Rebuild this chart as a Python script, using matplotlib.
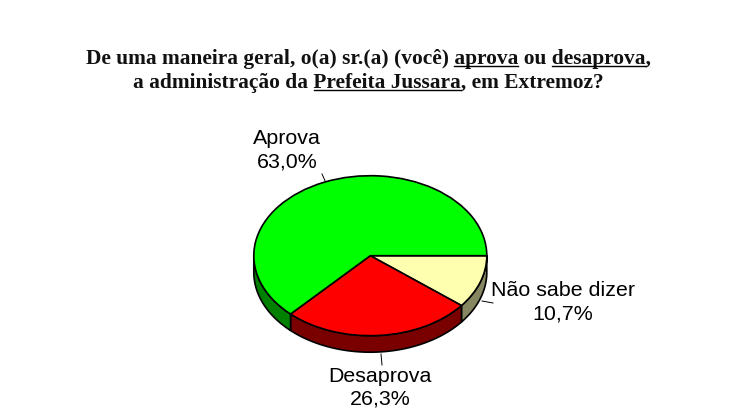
import numpy as np
import matplotlib
matplotlib.use('Agg')
import matplotlib.pyplot as plt

W = 729
H = 414

# clockwise from 3 o'clock
categories = ['Não sabe dizer', 'Desaprova', 'Aprova']
values = [10.7, 26.3, 63.0]
value_labels = ['10,7%', '26,3%', '63,0%']
top_colors = ['#FFFFB0', '#FF0000', '#00FF00']
side_colors = ['#868660', '#7A0000', '#008000']

title_lines = [
    ('De uma maneira geral, o(a) sr.(a) (você) aprova ou desaprova,', ['aprova', 'desaprova']),
    ('a administração da Prefeita Jussara, em Extremoz?', ['Prefeita Jussara']),
]

cx, cy = 370.3, 256.7
rx, ry = 116.5, 80.0
depth = 16.5 / ry
title_size = 15.4
label_size = 15.4


def px(x, y):
    # image pixels to pie units
    return (x - cx) / rx, (cy - y) / ry


fig = plt.figure(figsize=(W / 100, H / 100), dpi=100, facecolor='white')
ax = fig.add_axes([0, 0, 1, 1])

wedges, _ = ax.pie(values, colors=top_colors, startangle=0, counterclock=False,
                   radius=1.0, center=(0, 0),
                   wedgeprops={'edgecolor': 'black', 'linewidth': 1.2, 'zorder': 3})
ax.set_aspect('auto')
ax.set_xlim(px(0, 0)[0], px(W, 0)[0])
ax.set_ylim(px(0, H)[1], px(0, 0)[1])
ax.axis('off')

# side of the pie, only the front half shows
fractions = np.cumsum([0] + values) / np.sum(values)
for i in range(len(values)):
    a0 = max(fractions[i] * 360, 0)
    a1 = min(fractions[i + 1] * 360, 180)
    t = np.radians(np.linspace(a0, a1, 80))
    xs = np.cos(t)
    ys = -np.sin(t)
    ax.fill(np.r_[xs, xs[::-1]], np.r_[ys, ys[::-1] - depth],
            facecolor=side_colors[i], edgecolor='black', linewidth=1.2, zorder=2)

# leader lines
leaders = [((482, 302), (493, 304)), ((381, 355), (382, 366)), ((322, 175), (326, 184))]
for p0, p1 in leaders:
    a = px(*p0)
    b = px(*p1)
    ax.plot([a[0], b[0]], [a[1], b[1]], color='black', linewidth=0.7, zorder=1)

# slice labels
label_pos = [(563, 291, 314), (380, 377, 399), (287, 138, 162)]
for name, val, (x, y1, y2) in zip(categories, value_labels, label_pos):
    ax.text(*px(x, y1), name, ha='center', va='center', fontsize=label_size,
            family='Liberation Sans', color='black')
    ax.text(*px(x, y2), val, ha='center', va='center', fontsize=label_size,
            family='Liberation Sans', color='black')

# title, underlines are measured from the rendered text
title_y = [64, 88]
title_x = 368.5
renderer = fig.canvas.get_renderer()
for (line, marked), y in zip(title_lines, title_y):
    t = ax.text(*px(title_x, y), line, ha='center', va='baseline', fontsize=title_size,
                family='Liberation Serif', weight='bold', color='#111111')
    box = t.get_window_extent(renderer)
    for word in marked:
        start = line.index(word)
        tmp = ax.text(0, 0, line[:start + len(word)], fontsize=title_size,
                      family='Liberation Serif', weight='bold')
        end_w = tmp.get_window_extent(renderer).width
        tmp.set_text(word)
        word_w = tmp.get_window_extent(renderer).width
        tmp.remove()
        x1 = box.x0 + end_w
        x0 = x1 - word_w
        a = px(x0, y + 3)
        b = px(x1, y + 3)
        ax.plot([a[0], b[0]], [a[1], b[1]], color='black', linewidth=1.0, zorder=4)

fig.savefig('out.png', dpi=100, facecolor='white')
